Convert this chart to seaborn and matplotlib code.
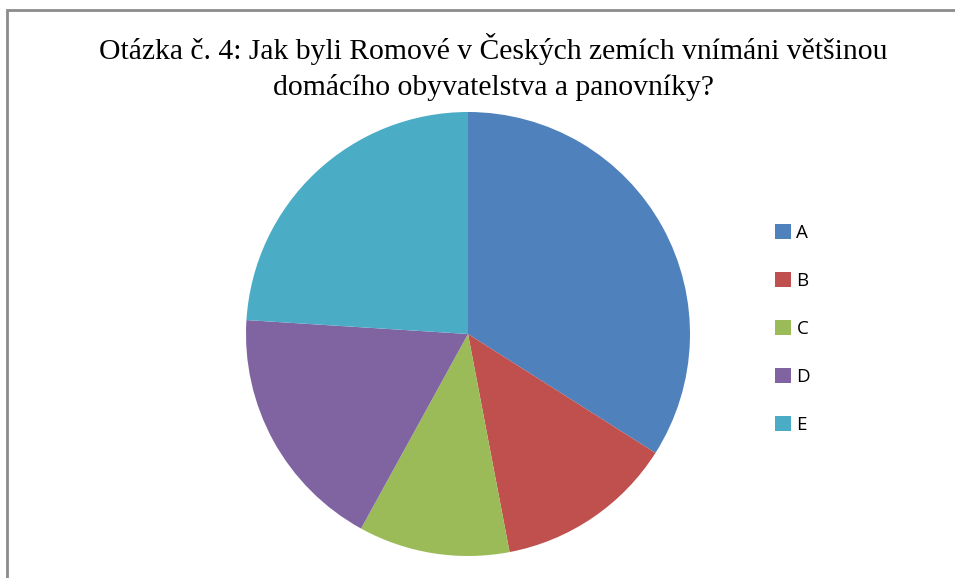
import matplotlib
matplotlib.use("Agg")
import matplotlib.pyplot as plt
from matplotlib.patches import Rectangle, Patch
import seaborn as sns

# Survey answers for question 4 (share of respondents, %)
categories = ["A", "B", "C", "D", "E"]
shares = [34, 13, 11, 18, 24]
colors = ["#4F81BD", "#C0504D", "#9BBB59", "#8064A2", "#4BACC6"]
title = ("Otázka č. 4: Jak byli Romové v Českých zemích vnímáni většinou\n"
         "domácího obyvatelstva a panovníky?")

sns.set_theme(style="white")
palette = sns.color_palette(colors)

W, H = 955, 578
fig = plt.figure(figsize=(W / 100, H / 100), dpi=100)
fig.patch.set_facecolor("white")

# chart frame
fig.add_artist(Rectangle((6.5 / W, -0.05), 1.2, (H - 10) / H + 0.05,
                         transform=fig.transFigure, fill=False,
                         edgecolor="#8c8c8c", linewidth=2.0))

cx, cy, r = 468, 334, 222
ax = fig.add_axes([(cx - r) / W, (H - cy - r) / H, 2 * r / W, 2 * r / H])
ax.pie(shares, colors=palette, startangle=90, counterclock=False,
       wedgeprops=dict(linewidth=0))
ax.set_xlim(-1, 1)
ax.set_ylim(-1, 1)
ax.set_aspect("equal")
ax.axis("off")

fig.text(493 / W, 1 - 67 / H, title, ha="center", va="center",
         fontsize=21.3, family="Liberation Serif", linespacing=1.42,
         color="black")

handles = [Patch(facecolor=c, edgecolor="none") for c in palette]
leg = fig.legend(handles, categories, loc="center left",
                 bbox_to_anchor=(758 / W, 1 - 329 / H), frameon=False,
                 prop=dict(family="Open Sans", size=13.5),
                 handlelength=0.85, handleheight=0.85, handletextpad=0.3,
                 labelspacing=1.6, labelcolor="black")

fig.savefig("out.png", dpi=100, facecolor="white")
